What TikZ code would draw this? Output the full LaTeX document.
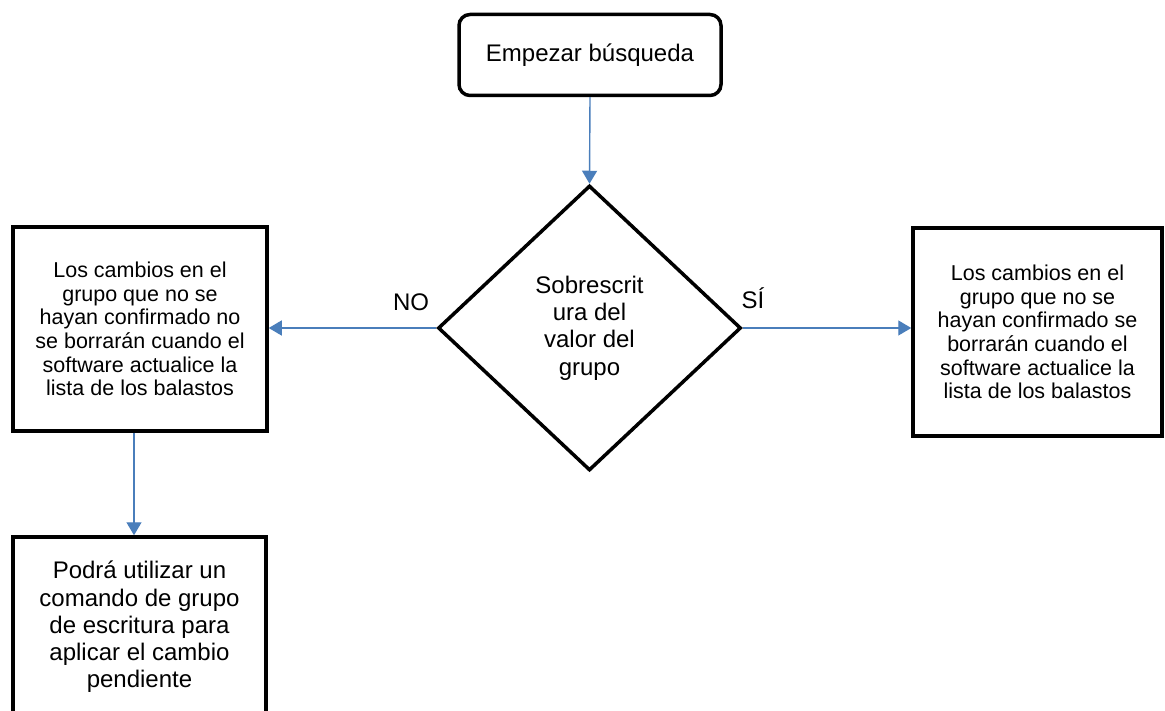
\documentclass[tikz,border=0pt]{standalone}
\usepackage{fontspec}
\setmainfont{Liberation Sans}
\usetikzlibrary{shapes.geometric}
\usetikzlibrary{arrows.meta}
\definecolor{c1}{RGB}{0,0,0}
\definecolor{c2}{RGB}{74,126,187}

\begin{document}
\begin{tikzpicture}[x=1pt,y=-1pt,
    caja/.style={draw=c1,line width=3.5pt,minimum width=#1,align=center,inner sep=0pt},
    chica/.style={font=\fontsize{21.5}{23.6}\selectfont},
    grande/.style={font=\fontsize{24}{27.3}\selectfont},
    flecha/.style={draw=c2,line width=1.4pt,-{Triangle[width=15pt,length=13pt]}}]
    \clip (0,0) rectangle (1165,711);
    % inicio
    \node[caja=262pt,grande,rounded corners=11pt,minimum height=81pt] (inicio) at (590,55) {Empezar búsqueda};
    % decision
    \node[caja=303pt,grande,diamond,minimum height=285pt] (dec) at (589.5,328) {Sobrescrit\\ura del\\valor del\\grupo};
    % rama NO
    \node[caja=254pt,chica,minimum height=204pt] (no) at (140,329) {Los cambios en el\\grupo que no se\\hayan confirmado no\\se borrarán cuando el\\software actualice la\\lista de los balastos};
    % rama SI
    \node[caja=249pt,chica,minimum height=208pt] (si) at (1037.5,332) {Los cambios en el\\grupo que no se\\hayan confirmado se\\borrarán cuando el\\software actualice la\\lista de los balastos};
    % pendiente (sale por abajo)
    \node[caja=253pt,grande,minimum height=180pt] (pend) at (139.5,627) {Podrá utilizar un\\comando de grupo\\de escritura para\\aplicar el cambio\\pendiente};
    % etiquetas
    \node[grande,anchor=base,inner sep=0pt] (lno) at (411,311) {NO};
    \node[grande,anchor=base,inner sep=0pt] (lsi) at (753,309) {SÍ};
    % flechas
    \draw[flecha] (inicio.south) -- (dec.north);
    \draw[flecha] (dec.west) -- (dec.west -| no.east);
    \draw[flecha] (dec.east) -- (dec.east -| si.west);
    \draw[flecha] ([xshift=-6pt]no.south) -- ([xshift=-6pt]no.south |- pend.north);
\end{tikzpicture}
\end{document}
